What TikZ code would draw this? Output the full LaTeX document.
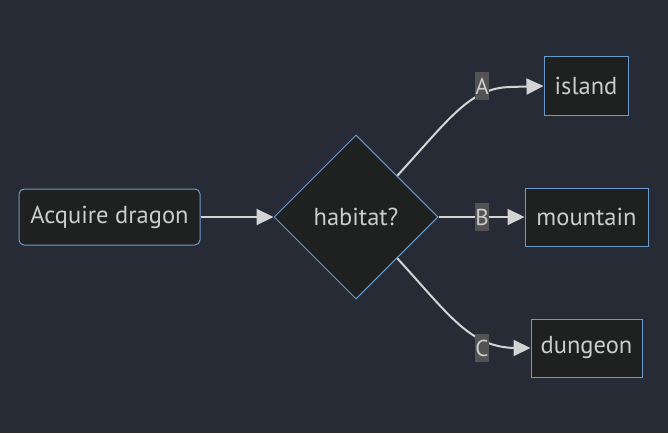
\documentclass[tikz,border=0pt]{standalone}
\usepackage{fontspec}
\setmainfont{PT Sans}
\usetikzlibrary{shapes.geometric,arrows.meta,calc}
\definecolor{bgc}{HTML}{272B36}
\definecolor{nodefill}{HTML}{1F2020}
\definecolor{nodeline}{HTML}{6A9ACB}
\definecolor{txt}{HTML}{CCCCCC}
\definecolor{edgec}{HTML}{D3D3D3}
\definecolor{lblbg}{HTML}{535353}
\tikzset{
  box/.style={draw=nodeline, line width=1pt, fill=nodefill, text=txt, inner sep=0pt, font=\fontsize{24.5}{28}\selectfont},
  decision/.style={diamond, aspect=1, draw=nodeline, line width=1pt, fill=nodefill, text=txt, inner sep=0pt, minimum width=164pt, minimum height=164pt, font=\fontsize{24.5}{28}\selectfont},
  flow/.style={draw=edgec, line width=2pt, -{Triangle[length=17pt,width=16pt]}},
  elabel/.style={fill=lblbg, text=txt, inner sep=0pt, minimum width=14pt, minimum height=28pt, font=\fontsize{23}{26}\selectfont}
}
\begin{document}
\begin{tikzpicture}[x=1pt,y=-1pt]
\fill[bgc] (0,0) rectangle (668,433);
\useasboundingbox (0,0) rectangle (668,433);
\node[box, rounded corners=5pt, minimum width=181pt, minimum height=56pt] (acq) at (109.5,217) {Acquire dragon};
\node[decision] (hab) at (356,217) {habitat?};
\node[box, minimum width=84pt, minimum height=58pt] (isl) at (586,86) {island};
\node[box, minimum width=123pt, minimum height=58pt] (mnt) at (586.5,217) {mountain};
\node[box, minimum width=111pt, minimum height=58pt] (dng) at (586.5,348) {dungeon};
\coordinate (hne) at ($(hab.north)!0.5!(hab.east)$);
\coordinate (hse) at ($(hab.south)!0.5!(hab.east)$);
\draw[flow] (acq.east) -- (hab.west);
\draw[flow] (hne) .. controls (450,118) and (470,88) .. (510,87) -- (isl.west);
\draw[flow] (hab.east) -- (mnt.west);
\draw[flow] (hse) .. controls (450,316) and (470,347) .. (515,348) -- (dng.west);
\node[elabel] (la) at (482,86) {A};
\node[elabel] (lb) at (482,217) {B};
\node[elabel] (lc) at (482,348) {C};
\end{tikzpicture}
\end{document}
